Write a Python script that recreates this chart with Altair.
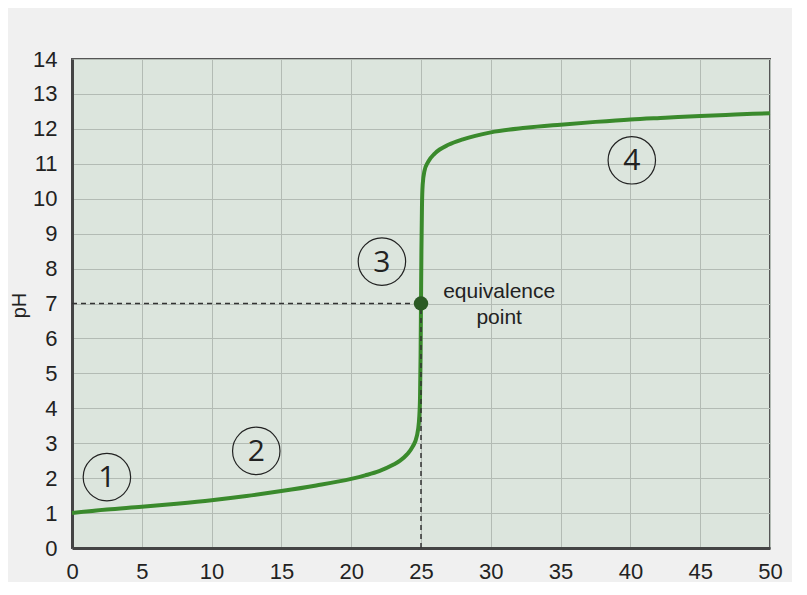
import altair as alt
import pandas as pd

# titration curve
curve_x = [0, 2.5, 5, 7.5, 10, 12.5, 15, 17.5, 20, 21, 22, 23, 23.5, 24, 24.4, 24.7,
           24.85, 24.93, 24.97, 25, 25.03, 25.07, 25.12, 25.25, 25.5, 26, 27, 28, 30,
           32.5, 35, 37.5, 40, 42.5, 45, 47.5, 50]
curve_ph = [1.0, 1.1, 1.18, 1.27, 1.37, 1.49, 1.63, 1.79, 1.98, 2.08, 2.2, 2.38, 2.5, 2.68,
            2.9, 3.2, 3.6, 4.3, 5.5, 7.0, 8.5, 9.8, 10.4, 10.8, 11.05, 11.3, 11.55, 11.7,
            11.9, 12.03, 12.12, 12.2, 12.27, 12.32, 12.37, 12.41, 12.45]

eq_x = [25]
eq_ph = [7]
eq_label = ["equivalence\npoint"]
eq_label_x = [30.6]
eq_label_y = [7.16]

region_labels = ["1", "2", "3", "4"]
region_x = [2.5, 13.2, 22.2, 40.1]
region_y = [2.03, 2.78, 8.2, 11.1]

x_ticks = list(range(0, 51, 5))
y_ticks = list(range(0, 15))

curve = pd.DataFrame({"x": curve_x, "y": curve_ph})
eq = pd.DataFrame({"x": eq_x, "y": eq_ph, "x0": [0] * len(eq_x), "y0": [0] * len(eq_x)})
eqt = pd.DataFrame({"x": eq_label_x, "y": eq_label_y, "t": eq_label})
regions = pd.DataFrame({"x": region_x, "y": region_y, "t": region_labels})

FONT = "Liberation Sans"
x_axis = alt.Axis(values=x_ticks, title=None, ticks=False, labelFontSize=22, labelFont=FONT,
                  labelColor="#222", labelPadding=13, domainColor="#444", domainWidth=3,
                  gridColor="#b3bbb4", gridWidth=1, labelFlush=False)
y_axis = alt.Axis(values=y_ticks, title="pH", ticks=False, labelFontSize=22, labelFont=FONT,
                  labelColor="#222", labelPadding=15, domainColor="#444", domainWidth=3,
                  gridColor="#b3bbb4", gridWidth=1, labelFlush=False,
                  titleFont=FONT, titleFontSize=20, titleFontWeight="normal", titleColor="#222",
                  titleX=-43, titleY=246, titleBaseline="bottom")

xs = alt.Scale(domain=[0, 50], nice=False)
ys = alt.Scale(domain=[0, 14], nice=False)

X = lambda f="x": alt.X(f"{f}:Q", scale=xs, axis=x_axis)
Y = lambda f="y": alt.Y(f"{f}:Q", scale=ys, axis=y_axis)

line = alt.Chart(curve).mark_line(color="#3a8a2c", strokeWidth=4, interpolate="monotone").encode(
    x=X(), y=Y())

hdash = alt.Chart(eq).mark_rule(color="#333", strokeWidth=1.5, strokeDash=[5, 4]).encode(
    x=X("x0"), x2="x:Q", y=Y())
vdash = alt.Chart(eq).mark_rule(color="#333", strokeWidth=1.5, strokeDash=[5, 4]).encode(
    x=X(), y=Y("y0"), y2="y:Q")

point = alt.Chart(eq).mark_point(shape="circle", filled=True, size=210, color="#2b5a24",
                                 opacity=1).encode(x=X(), y=Y())

eq_text = alt.Chart(eqt).mark_text(font=FONT, fontSize=21, color="#222", align="center",
                                   baseline="alphabetic", lineBreak="\n", lineHeight=26).encode(
    x=X(), y=Y(), text="t:N")

rings = alt.Chart(regions).mark_point(shape="circle", filled=False, size=2250, stroke="#222",
                                      strokeWidth=1.2, opacity=1).encode(x=X(), y=Y())
ring_text = alt.Chart(regions).mark_text(font="Open Sans", fontSize=30, color="#222",
                                         align="center", baseline="middle", dy=1).encode(
    x=X(), y=Y(), text="t:N")

chart = alt.layer(line, hdash, vdash, point, eq_text, rings, ring_text).properties(
    width=698, height=489,
    autosize=alt.AutoSizeParams(type="none"),
    padding={"left": 64, "top": 51, "right": 22, "bottom": 34},
    background="#f0f0f0",
).configure_view(fill="#dce5dd", stroke="#555", strokeWidth=2)

chart.save("out.html", embed_options={"renderer": "svg", "actions": False})
